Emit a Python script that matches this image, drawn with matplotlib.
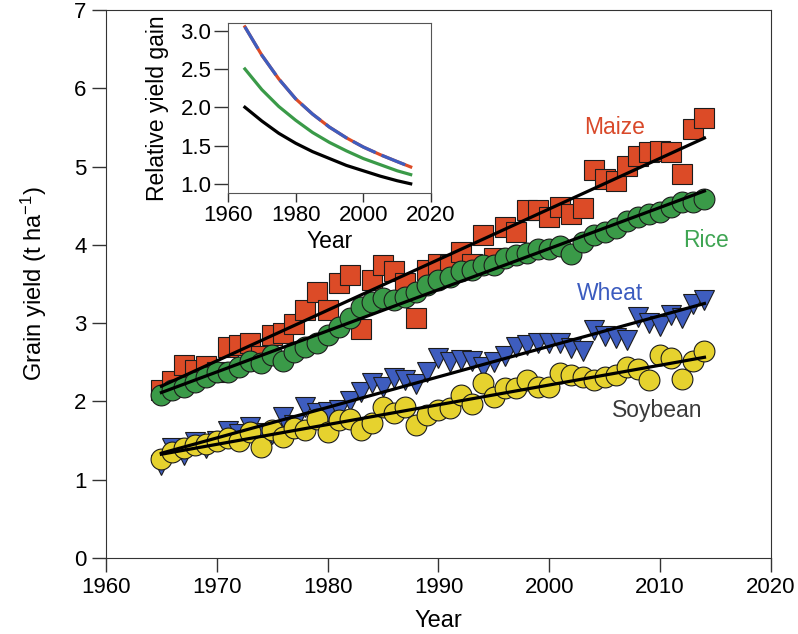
import numpy as np
import matplotlib
matplotlib.use("Agg")
import matplotlib.pyplot as plt

plt.rcParams['font.family'] = ['Liberation Sans', 'DejaVu Sans']
plt.rcParams['mathtext.fontset'] = 'custom'
plt.rcParams['mathtext.rm'] = 'Liberation Sans'
plt.rcParams['mathtext.it'] = 'Liberation Sans:italic'

# Yearly world yields (t/ha)
years = np.arange(1965, 2015)
maize = [2.15, 2.26, 2.46, 2.40, 2.45, 2.38, 2.70, 2.72, 2.75, 2.58,
         2.85, 2.88, 2.99, 3.17, 3.40, 3.17, 3.51, 3.62, 2.92, 3.55,
         3.74, 3.66, 3.51, 3.06, 3.68, 3.76, 3.74, 3.91, 3.75, 4.13,
         3.83, 4.23, 4.17, 4.44, 4.44, 4.35, 4.49, 4.39, 4.47, 4.96,
         4.84, 4.82, 5.01, 5.14, 5.18, 5.20, 5.18, 4.90, 5.48, 5.62]
rice = [2.08, 2.14, 2.18, 2.25, 2.31, 2.38, 2.38, 2.44, 2.51, 2.49,
        2.59, 2.51, 2.63, 2.70, 2.74, 2.85, 2.95, 3.06, 3.21, 3.27,
        3.32, 3.30, 3.34, 3.40, 3.49, 3.55, 3.59, 3.66, 3.68, 3.74,
        3.74, 3.83, 3.87, 3.89, 3.95, 3.95, 3.99, 3.88, 4.04, 4.13,
        4.17, 4.21, 4.30, 4.36, 4.40, 4.42, 4.49, 4.55, 4.55, 4.59]
wheat = [1.19, 1.40, 1.31, 1.48, 1.40, 1.50, 1.62, 1.58, 1.67, 1.60,
         1.58, 1.80, 1.70, 1.93, 1.85, 1.86, 1.89, 2.00, 2.12, 2.23,
         2.18, 2.30, 2.28, 2.22, 2.37, 2.55, 2.50, 2.53, 2.52, 2.44,
         2.50, 2.58, 2.70, 2.72, 2.74, 2.74, 2.74, 2.68, 2.64, 2.91,
         2.83, 2.81, 2.79, 3.08, 3.00, 2.96, 3.10, 3.06, 3.25, 3.30]
soybean = [1.27, 1.36, 1.40, 1.44, 1.46, 1.49, 1.53, 1.49, 1.61, 1.42,
           1.63, 1.55, 1.66, 1.63, 1.78, 1.61, 1.76, 1.78, 1.63, 1.72,
           1.93, 1.85, 1.93, 1.70, 1.83, 1.89, 1.91, 2.08, 1.97, 2.23,
           2.06, 2.17, 2.17, 2.27, 2.19, 2.19, 2.36, 2.34, 2.31, 2.27,
           2.31, 2.34, 2.44, 2.42, 2.27, 2.59, 2.55, 2.29, 2.51, 2.64]

# Inset: relative yield gain curves
gain_years = [1965, 1970, 1975, 1980, 1985, 1990, 1995, 2000, 2005, 2010, 2014]
gain_maize = [3.05, 2.68, 2.37, 2.11, 1.91, 1.74, 1.60, 1.48, 1.38, 1.29, 1.22]
gain_wheat = [3.05, 2.68, 2.37, 2.11, 1.91, 1.74, 1.60, 1.48, 1.38, 1.29, 1.22]
gain_rice = [2.50, 2.23, 2.01, 1.83, 1.67, 1.54, 1.43, 1.33, 1.25, 1.17, 1.12]
gain_soy = [2.00, 1.82, 1.66, 1.53, 1.42, 1.33, 1.24, 1.17, 1.10, 1.04, 1.00]

c_maize = '#DC4B27'
c_rice = '#3A9A48'
c_wheat = '#3E5DBF'
c_soy = '#E6D22E'
edge = '#1c1c1c'

fig = plt.figure(figsize=(7.98, 6.34), dpi=100)
ax = fig.add_axes([0.1328, 0.1199, 0.8333, 0.8643])

series = [(maize, 's', 14, c_maize),
          (rice, 'o', 15, c_rice),
          (wheat, 'v', 15, c_wheat),
          (soybean, 'o', 15, c_soy)]
for vals, mk, ms, col in series:
    ax.plot(years, vals, ls='none', marker=mk, ms=ms, mfc=col,
            mec=edge, mew=0.8)

# Linear trend lines on top of markers
for vals, _, _, _ in series:
    p = np.polyfit(years, vals, 1)
    ax.plot(years, np.polyval(p, years), color='black', lw=2.3, zorder=5)

ax.text(2005.9, 5.50, 'Maize', color='#D9492A', fontsize=16.5, ha='center', va='center')
ax.text(2014.1, 4.06, 'Rice', color='#3FA553', fontsize=16.5, ha='center', va='center')
ax.text(2005.5, 3.38, 'Wheat', color='#3B5BBF', fontsize=16.5, ha='center', va='center')
ax.text(2009.7, 1.88, 'Soybean', color='#3a3a3a', fontsize=16.5, ha='center', va='center')

ax.set_xlim(1960, 2020)
ax.set_ylim(0, 7)
ax.set_xticks(range(1960, 2021, 10))
ax.set_yticks(range(0, 8))
ax.tick_params(direction='out', length=10, width=1, labelsize=16,
               color='#333333', pad=4)
for sp in ax.spines.values():
    sp.set_color('#333333')
ax.set_xlabel('Year', fontsize=17, labelpad=8)
ax.set_ylabel('Grain yield (t ha$^{-1}$)', fontsize=17, labelpad=18)

# Inset
ins = fig.add_axes([0.2857, 0.6956, 0.2544, 0.2681])
ins.plot(gain_years, gain_soy, color='black', lw=2.3)
ins.plot(gain_years, gain_rice, color=c_rice, lw=2.3)
ins.plot(gain_years, gain_maize, color=c_maize, lw=2.3)
ins.plot(gain_years, gain_wheat, color=c_wheat, lw=2.3, ls=(0, (8, 2)))
ins.set_xlim(1960, 2020)
ins.set_ylim(0.88, 3.1)
ins.set_xticks([1960, 1980, 2000, 2020])
ins.set_yticks([1.0, 1.5, 2.0, 2.5, 3.0])
ins.set_yticklabels(['1.0', '1.5', '2.0', '2.5', '3.0'])
ins.tick_params(direction='out', width=1, labelsize=16, color='#333333')
ins.tick_params(axis='y', length=10, pad=2)
ins.tick_params(axis='x', length=6.5, pad=2)
for sp in ins.spines.values():
    sp.set_color('#555555')
ins.set_xlabel('Year', fontsize=16.5, labelpad=3)
ins.set_ylabel('Relative yield gain', fontsize=16.5, labelpad=8)

fig.savefig('out.png', dpi=100)
